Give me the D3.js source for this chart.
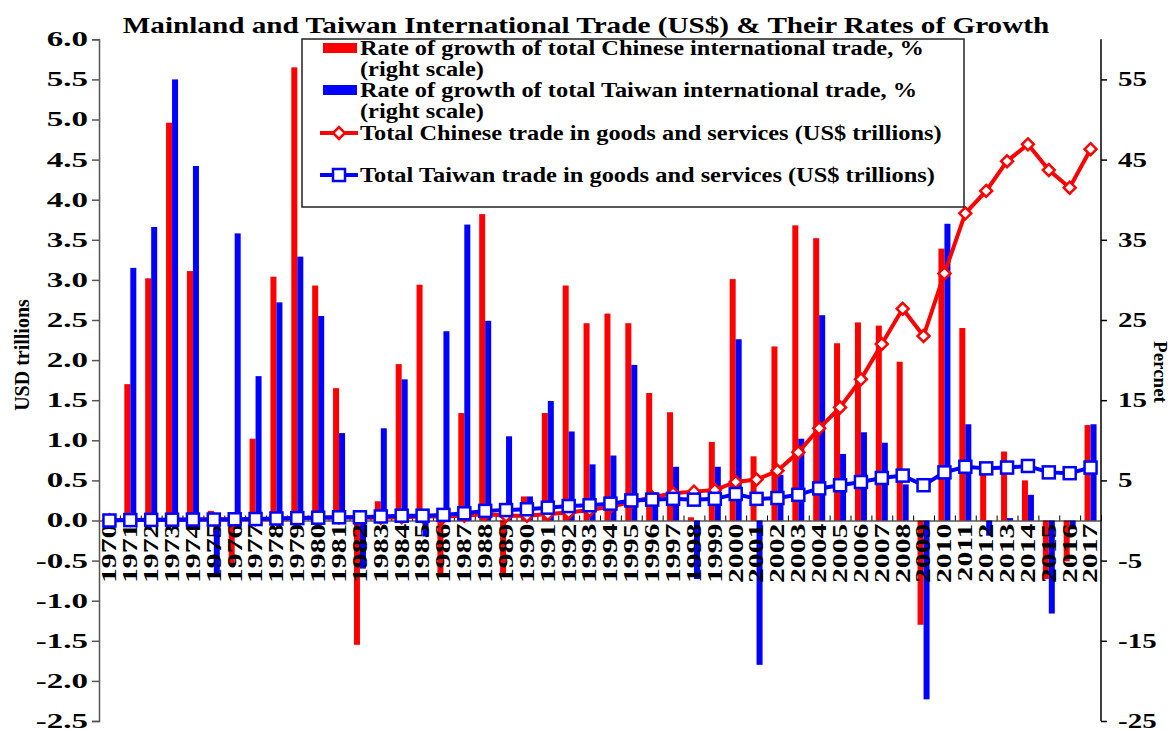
<!DOCTYPE html>
<html>
<head>
<meta charset="utf-8">
<script src="https://cdn.jsdelivr.net/npm/d3@7"></script>
<style>
	body { margin: 0; background: #fff; }
	svg { display: block; font-family: "Liberation Serif", "Times New Roman", serif; font-weight: bold; }
</style>
</head>
<body>
<svg id="chart" width="1173" height="731"></svg>
<script>
const years = d3.range(1970, 2018).map(String);

// growth rates, % (right scale)
const chinaGrowth = [null, 17.0, 30.2, 49.6, 31.1, 1.2, -5.4, 10.2, 30.4, 56.5, 29.3, 16.5, -15.5, 2.4, 19.5, 29.4,
	-6.8, 13.4, 38.2, -7.0, 3.0, 13.4, 29.3, 24.6, 25.8, 24.6, 15.9, 13.5, 0.4, 9.8, 30.1, 8.0,
	21.7, 36.8, 35.2, 22.1, 24.7, 24.3, 19.8, -13.0, 33.9, 24.0, 6.2, 8.6, 5.0, -7.3, -5.1, 11.9];
const taiwanGrowth = [null, 31.5, 36.6, 55.0, 44.2, -6.8, 35.8, 18.0, 27.2, 32.9, 25.5, 10.9, -6.0, 11.5, 17.6, -2.0,
	23.6, 36.9, 24.9, 10.5, 3.0, 14.9, 11.1, 7.0, 8.1, 19.4, 3.5, 6.7, -7.3, 6.7, 22.6, -18.0,
	5.7, 10.2, 25.6, 8.3, 11.0, 9.7, 4.5, -22.3, 37.0, 12.0, -1.9, 0.3, 3.2, -11.6, -1.1, 12.0];

// totals, US$ trillions (left scale)
const chinaTotal = [0.005, 0.005, 0.006, 0.01, 0.014, 0.015, 0.014, 0.015, 0.02, 0.03, 0.038, 0.04, 0.035, 0.035, 0.04, 0.05,
	0.05, 0.06, 0.08, 0.06, 0.06, 0.08, 0.10, 0.13, 0.17, 0.23, 0.29, 0.34, 0.36, 0.38, 0.48, 0.51,
	0.62, 0.85, 1.15, 1.41, 1.76, 2.20, 2.64, 2.30, 3.08, 3.83, 4.11, 4.48, 4.69, 4.37, 4.15, 4.63];
const taiwanTotal = [0.0, 0.005, 0.008, 0.01, 0.012, 0.012, 0.015, 0.018, 0.025, 0.03, 0.035, 0.04, 0.04, 0.05, 0.06, 0.06,
	0.07, 0.09, 0.12, 0.13, 0.14, 0.16, 0.18, 0.19, 0.21, 0.25, 0.26, 0.27, 0.26, 0.27, 0.33, 0.27,
	0.28, 0.32, 0.40, 0.44, 0.48, 0.53, 0.56, 0.44, 0.60, 0.67, 0.65, 0.66, 0.68, 0.60, 0.59, 0.66];

const leftTicks = d3.range(-2.5, 6.01, 0.5);
const rightTicks = [-25, -15, -5, 5, 15, 25, 35, 45, 55];

const legendItems = [
	{ type: 'bar', color: '#ff0000', lines: ['Rate of growth of total Chinese international trade, %', '(right scale)'] },
	{ type: 'bar', color: '#0000ff', lines: ['Rate of growth of total Taiwan international trade, %', '(right scale)'] },
	{ type: 'diamond', color: '#ff0000', lines: ['Total Chinese trade in goods and services (US$ trillions)'] },
	{ type: 'square', color: '#0000ff', lines: ['Total Taiwan trade in goods and services (US$ trillions)'] }
];

const svg = d3.select('#chart');
const plotLeft = 99, plotRight = 1101, plotTop = 39.3, plotBottom = 721;

const x = d3.scaleBand().domain(years).range([plotLeft, plotRight]);
const xIdx = d3.scaleLinear().domain([0, years.length]).range([plotLeft, plotRight]);
const sub = d3.scaleBand().domain(['cn', 'tw']).range([0, x.bandwidth()]).paddingInner(0).paddingOuter(0.74);
const yL = d3.scaleLinear().domain([-2.5, 6]).range([plotBottom, plotTop]);
const yR = d3.scaleLinear().domain([-25, 60]).range([plotBottom, plotTop]);

const rows = years.map((y, i) => ({ year: y, cn: chinaGrowth[i], tw: taiwanGrowth[i], cnT: chinaTotal[i], twT: taiwanTotal[i] }));

// the source chart's lettering is wider than the font, so text is stretched sideways
const stretch = (sel, sx) => sel.each(function () {
	const t = d3.select(this);
	const x0 = +t.attr('x') || 0;
	t.attr('x', x0 / sx).attr('transform', (t.attr('transform') || '') + ' scale(' + sx + ',1)');
});
const hyphen = f => d => f(d).replace('\u2212', '-');

// bars
[['cn', '#ff0000'], ['tw', '#0000ff']].forEach(([key, color]) => {
	svg.append('g')
		.selectAll('rect')
		.data(rows.filter(d => d[key] != null))
		.enter()
		.append('rect')
		.attr('x', d => x(d.year) + sub(key))
		.attr('width', sub.bandwidth())
		.attr('y', d => yR(Math.max(0, d[key])))
		.attr('height', d => Math.abs(yR(d[key]) - yR(0)))
		.attr('fill', color);
});

// x axis: line with inner ticks at category boundaries
svg.append('g')
	.attr('transform', 'translate(0,' + yL(0) + ')')
	.call(d3.axisBottom(xIdx).tickValues(d3.range(0, years.length + 1)).tickSize(-5).tickFormat(''))
	.call(g => g.selectAll('line, path').attr('stroke', '#000'));

svg.append('g')
	.attr('class', 'years')
	.selectAll('text')
	.data(years)
	.enter()
	.append('text')
	.attr('transform', d => 'translate(' + (x(d) + x.bandwidth() / 2) + ',' + (yL(0) + 3) + ') rotate(-90) scale(1.42,1)')
	.attr('text-anchor', 'end')
	.attr('dominant-baseline', 'central')
	.style('font-size', '21px')
	.text(d => d);

// lines
const line = key => d3.line().x(d => x(d.year) + x.bandwidth() / 2).y(d => yL(d[key]));

svg.append('path')
	.datum(rows)
	.attr('d', line('cnT'))
	.attr('fill', 'none')
	.attr('stroke', '#ff0000')
	.attr('stroke-width', 4);

svg.append('g')
	.selectAll('path')
	.data(rows)
	.enter()
	.append('path')
	.attr('d', d3.symbol(d3.symbolDiamond2, 90))
	.attr('transform', d => 'translate(' + (x(d.year) + x.bandwidth() / 2) + ',' + yL(d.cnT) + ')')
	.attr('fill', '#fff')
	.attr('stroke', '#ff0000')
	.attr('stroke-width', 2.5);

svg.append('path')
	.datum(rows)
	.attr('d', line('twT'))
	.attr('fill', 'none')
	.attr('stroke', '#0000ff')
	.attr('stroke-width', 4);

svg.append('g')
	.selectAll('rect')
	.data(rows)
	.enter()
	.append('rect')
	.attr('x', d => x(d.year) + x.bandwidth() / 2 - 6)
	.attr('y', d => yL(d.twT) - 6)
	.attr('width', 12)
	.attr('height', 12)
	.attr('fill', '#fff')
	.attr('stroke', '#0000ff')
	.attr('stroke-width', 2.5);

// left axis
svg.append('g')
	.attr('transform', 'translate(' + plotLeft + ',0)')
	.call(d3.axisLeft(yL).tickValues(leftTicks).tickSize(7).tickPadding(4).tickFormat(hyphen(d3.format('.1f'))))
	.attr('font-family', null)
	.attr('font-size', null)
	.call(g => g.selectAll('line, path').attr('stroke', '#555').attr('stroke-width', 1.5))
	.call(g => g.selectAll('text').style('font-size', '20px').attr('fill', '#000').call(stretch, 1.65));

// right axis
svg.append('g')
	.attr('transform', 'translate(' + plotRight + ',0)')
	.call(d3.axisRight(yR).tickValues(rightTicks).tickSize(6).tickPadding(11).tickSizeOuter(0).tickFormat(hyphen(d3.format('d'))))
	.attr('font-family', null)
	.attr('font-size', null)
	.call(g => g.select('.domain').attr('d', 'M0,' + plotTop + 'V' + plotBottom))
	.call(g => g.selectAll('line, path').attr('stroke', '#000').attr('stroke-width', 1.5))
	.call(g => g.selectAll('text').style('font-size', '20px').attr('fill', '#000').call(stretch, 1.45));

// axis titles
svg.append('text')
	.attr('transform', 'translate(22,355) rotate(-90)')
	.attr('text-anchor', 'middle')
	.attr('dominant-baseline', 'central')
	.style('font-size', '20px')
	.text('USD trillions');

svg.append('text')
	.attr('transform', 'translate(1160,372) rotate(90)')
	.attr('text-anchor', 'middle')
	.attr('dominant-baseline', 'central')
	.style('font-size', '19px')
	.text('Percnet');

// title
svg.append('text')
	.attr('transform', 'translate(586,33) scale(1.27,1)')
	.attr('text-anchor', 'middle')
	.style('font-size', '23px')
	.text('Mainland and Taiwan International Trade (US$) & Their Rates of Growth');

// legend
const legend = svg.append('g');
legend.append('rect')
	.attr('x', 302).attr('y', 39).attr('width', 662).attr('height', 168)
	.attr('fill', '#fff').attr('stroke', '#222').attr('stroke-width', 1.5);

const rowY = [55, 97, 140, 182];
legendItems.forEach((item, i) => {
	const by = rowY[i];
	if (item.type === 'bar') {
		legend.append('rect').attr('x', 323).attr('y', by - 12).attr('width', 34).attr('height', 10).attr('fill', item.color);
	} else {
		legend.append('line').attr('x1', 320).attr('x2', 358).attr('y1', by - 7).attr('y2', by - 7)
			.attr('stroke', item.color).attr('stroke-width', 4);
		if (item.type === 'diamond') {
			legend.append('path').attr('d', d3.symbol(d3.symbolDiamond2, 90))
				.attr('transform', 'translate(339,' + (by - 7) + ')')
				.attr('fill', '#fff').attr('stroke', item.color).attr('stroke-width', 2.5);
		} else {
			legend.append('rect').attr('x', 333).attr('y', by - 13).attr('width', 12).attr('height', 12)
				.attr('fill', '#fff').attr('stroke', item.color).attr('stroke-width', 2.5);
		}
	}
	item.lines.forEach((t, j) => {
		legend.append('text')
			.attr('x', 360)
			.attr('y', by + j * 21)
			.style('font-size', '20px')
			.text(t)
			.call(stretch, 1.22);
	});
});
</script>
</body>
</html>
